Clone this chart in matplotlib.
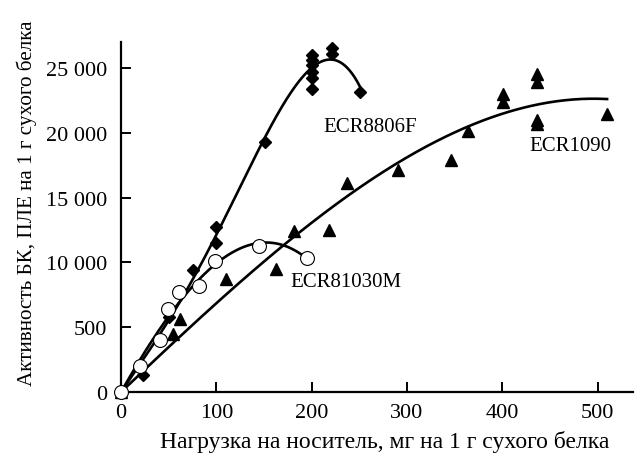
import numpy as np
import matplotlib
matplotlib.use("Agg")
import matplotlib.pyplot as plt

plt.rcParams['font.family'] = ['Liberation Serif', 'DejaVu Serif']

# ECR8806F (filled diamonds)
x_8806 = [0, 23, 50, 75, 100, 100, 151, 200, 200, 200, 200, 200, 200, 221, 221, 251]
y_8806 = [0, 1300, 5800, 9400, 11500, 12700, 19300, 26000, 25600, 25200, 24700, 24200, 23400, 26500, 26100, 23100]

# ECR81030M (open circles)
x_81030 = [0, 20, 41, 49, 61, 82, 99, 145, 195]
y_81030 = [0, 2000, 4000, 6400, 7700, 8200, 10100, 11300, 10350]

# ECR1090 (filled triangles)
x_1090 = [0, 55, 62, 110, 163, 182, 218, 237, 291, 346, 364, 401, 401, 436, 436, 436, 436, 510]
y_1090 = [0, 4500, 5600, 8700, 9500, 12400, 12500, 16100, 17100, 17900, 20100, 23000, 22350, 24500, 23900, 21000, 20700, 21400]

series_labels = ["ECR8806F", "ECR81030M", "ECR1090"]
yticks = [0, 5000, 10000, 15000, 20000, 25000]
ytick_labels = ["0", "500", "10 000", "15 000", "20 000", "25 000"]
xticks = [0, 100, 200, 300, 400, 500]
xlabel = "Нагрузка на носитель, мг на 1 г сухого белка"
ylabel = "Активность БК, ПЛЕ на 1 г сухого белка"

fig = plt.figure(figsize=(6.35, 4.56), dpi=100)
ax = fig.add_axes([0.1906, 0.138, 0.806, 0.768])

def trend(x, y, deg, xmax):
    x = np.asarray(x, float); y = np.asarray(y, float)
    A = np.vstack([x ** k for k in range(1, deg + 1)]).T
    c, *_ = np.linalg.lstsq(A, y, rcond=None)
    xs = np.linspace(0, xmax, 300)
    ys = sum(c[k - 1] * xs ** k for k in range(1, deg + 1))
    return xs, ys

lw = 1.9
for xs_, ys_, deg in [(x_8806, y_8806, 4), (x_81030, y_81030, 3), (x_1090, y_1090, 3)]:
    xx, yy = trend(xs_, ys_, deg, max(xs_))
    ax.plot(xx, yy, color='black', lw=lw, zorder=2, clip_on=False)

ax.plot(x_1090, y_1090, linestyle='none', marker='^', ms=9, color='black', zorder=3, clip_on=False)
ax.plot(x_8806, y_8806, linestyle='none', marker='D', ms=6, color='black', zorder=4, clip_on=False)
ax.plot(x_81030, y_81030, linestyle='none', marker='o', ms=10, markerfacecolor='white',
        markeredgecolor='black', markeredgewidth=0.8, zorder=5, clip_on=False)

ax.text(261, 20450, series_labels[0], fontsize=15, ha='center', va='center')
ax.text(236, 8550, series_labels[1], fontsize=15, ha='center', va='center')
ax.text(471, 19000, series_labels[2], fontsize=15, ha='center', va='center')

ax.set_xlim(0, 537)
ax.set_ylim(0, 27000)
ax.set_xticks(xticks)
ax.set_xticklabels([str(v) for v in xticks])
ax.set_yticks(yticks)
ax.set_yticklabels(ytick_labels)
for s in ['top', 'right']:
    ax.spines[s].set_visible(False)
for s in ['left', 'bottom']:
    ax.spines[s].set_linewidth(1.6)
ax.tick_params(direction='in', length=7, width=1.4, labelsize=16)
ax.tick_params(axis='y', pad=10)
ax.tick_params(axis='x', pad=8)
ax.set_xlabel(xlabel, fontsize=17)
ax.set_ylabel(ylabel, fontsize=15.2)
ax.xaxis.set_label_coords(0.516, -0.108)
ax.yaxis.set_label_coords(-0.165, 0.543)

fig.savefig("out.png", dpi=100)
